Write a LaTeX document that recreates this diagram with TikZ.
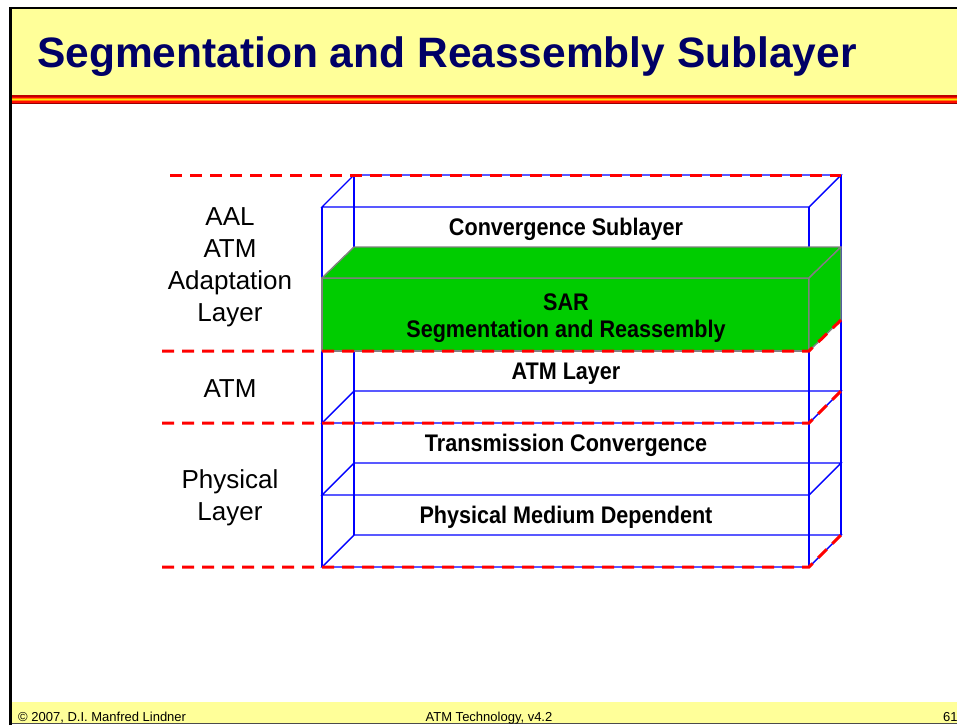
\documentclass[tikz,border=0pt]{standalone}
\usepackage{fontspec}
\setmainfont{Liberation Sans}
\newfontfamily\narrowfont[FakeStretch=0.9]{Liberation Sans}
\definecolor{slideyellow}{RGB}{255,255,153}
\definecolor{titleblue}{RGB}{0,0,102}
\definecolor{sargreen}{RGB}{0,204,0}
\begin{document}
\begin{tikzpicture}[x=1pt,y=-1pt,
		wire/.style={blue,line width=1.4pt},
		layerline/.style={red,line width=3pt,dash pattern=on 12pt off 8pt},
		sarface/.style={fill=sargreen,draw=gray,line width=1.4pt,line join=round},
		boxlabel/.style={anchor=base,inner sep=0pt,font=\narrowfont\bfseries\fontsize{24}{28}\selectfont},
		sidelabel/.style={anchor=base,inner sep=0pt,font=\fontsize{26}{31}\selectfont},
		footlabel/.style={anchor=base,inner sep=0pt,font=\fontsize{13}{15}\selectfont}]
			\useasboundingbox (0,0) rectangle (957,725);
			\fill[white] (0,0) rectangle (957,725);
			\fill[slideyellow] (10,8) rectangle (957,95);
			\fill[red!75!black] (10,95) rectangle (957,96.5);
			\fill[red!90!orange] (10,96.5) rectangle (957,97.8);
			\fill[orange] (10,97.8) rectangle (957,99);
			\fill[yellow!90!orange] (10,99) rectangle (957,100.2);
			\fill[orange] (10,100.2) rectangle (957,101.4);
			\fill[red!90!orange] (10,101.4) rectangle (957,102.6);
			\fill[red!60!black] (10,102.6) rectangle (957,104);
			\fill[slideyellow] (12,702) rectangle (957,723);
			\draw[gray!60!black,line width=1pt] (12,723.5) -- (957,723.5);
			\draw[line width=2.8pt] (10.5,725) -- (10.5,8) -- (957,8);
			\node[anchor=base west,inner sep=0pt,text=titleblue,font=\bfseries\fontsize{42.5}{48}\selectfont] (title) at (37,67) {Segmentation and Reassembly Sublayer};
			\draw[wire] (354,175) -- (354,535);
			\draw[wire] (841,175) -- (841,535);
			\draw[wire] (322,207) -- (322,567);
			\draw[wire] (809,207) -- (809,567);
			\draw[wire] (322,207) -- (354,175) -- (841,175) -- (809,207) -- cycle;
			\draw[wire] (322,423) -- (354,391) -- (841,391) -- (809,423) -- cycle;
			\draw[wire] (322,495) -- (354,463) -- (841,463) -- (809,495) -- cycle;
			\draw[wire] (322,567) -- (354,535) -- (841,535) -- (809,567) -- cycle;
			\draw[sarface] (322,278) rectangle (809,351);
			\draw[sarface] (322,278) -- (354,247) -- (841,247) -- (809,278) -- cycle;
			\draw[sarface] (809,278) -- (841,247) -- (841,320) -- (809,351) -- cycle;
			\draw[layerline] (170,175) -- (841,175);
			\draw[layerline] (162,351) -- (809,351) -- (841,320);
			\draw[layerline] (162,423) -- (809,423) -- (841,391);
			\draw[layerline] (162,567) -- (809,567) -- (841,535);
			\node[boxlabel] (cs) at (566,235) {Convergence Sublayer};
			\node[boxlabel] (sar) at (566,310) {SAR};
			\node[boxlabel] (sarlong) at (566,337) {Segmentation and Reassembly};
			\node[boxlabel] (atmlayer) at (566,379) {ATM Layer};
			\node[boxlabel] (tc) at (566,451) {Transmission Convergence};
			\node[boxlabel] (pmd) at (566,523) {Physical Medium Dependent};
			\node[sidelabel] (aal) at (230,225) {AAL};
			\node[sidelabel] (aalatm) at (230,257) {ATM};
			\node[sidelabel] (aaladapt) at (230,289) {Adaptation};
			\node[sidelabel] (aallayer) at (230,321) {Layer};
			\node[sidelabel] (atm) at (230,397) {ATM};
			\node[sidelabel] (phys) at (230,488) {Physical};
			\node[sidelabel] (physlayer) at (230,520) {Layer};
			\node[footlabel,anchor=base west] (copyright) at (18,721) {© 2007, D.I. Manfred Lindner};
			\node[footlabel] (version) at (489,721) {ATM Technology, v4.2};
			\node[footlabel,anchor=base west] (page) at (943,721) {61};
		\end{tikzpicture}
\end{document}
